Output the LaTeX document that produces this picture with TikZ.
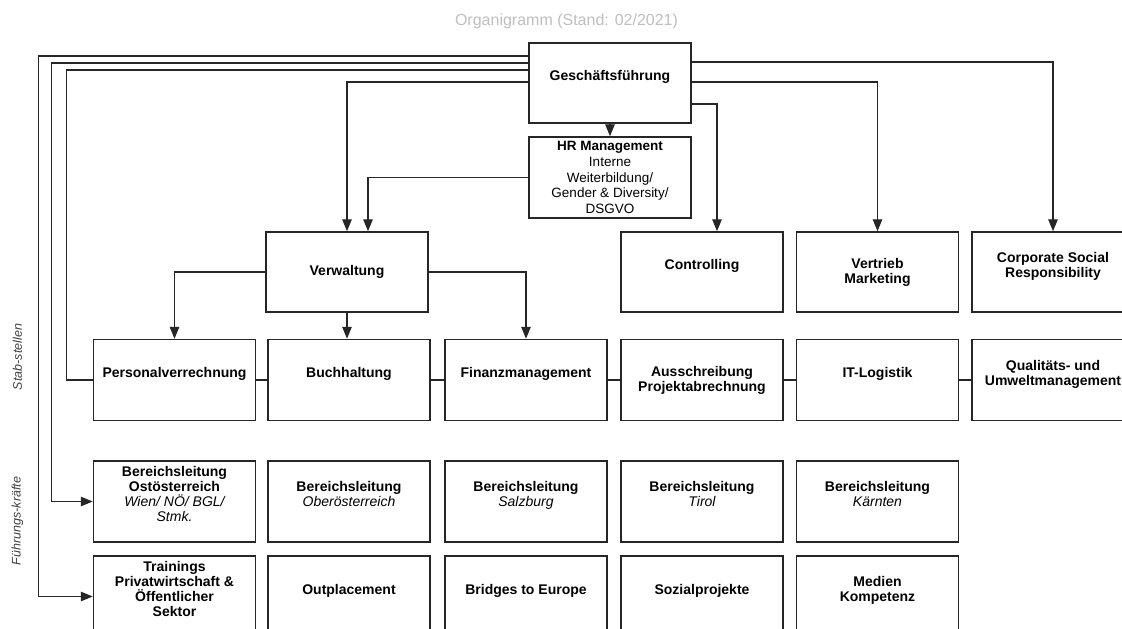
\documentclass[tikz,border=0pt]{standalone}
\usepackage{fontspec}
\setmainfont{Liberation Sans}
\usetikzlibrary{arrows.meta,calc}

\newcommand{\region}[1]{{\mdseries\itshape #1}}

\tikzset{
  box/.style={draw=black!85, line width=1.5pt, minimum width=162pt, minimum height=81pt,
    inner sep=0pt, align=center, font=\bfseries\fontsize{14}{15}\selectfont},
  link/.style={draw=black!85, line width=1.3pt},
  arr/.style={link, -{Triangle[length=12pt,width=9.5pt]}},
  side/.style={rotate=90, font=\itshape\fontsize{12.5}{15}\selectfont, text=black!75},
}

\begin{document}
\begin{tikzpicture}[x=1pt,y=-1pt]
    \clip (0,0) rectangle (1122,629);
    \fill[white] (0,0) rectangle (1122,629);

    % Draw title
    \node[font=\fontsize{16}{19}\selectfont, text=black!25] (title) at (566.5,21) {Organigramm (Stand: 02/2021)};

    % Draw top boxes
    \node[box, minimum height=80pt] (gf) at (610,83) {Geschäftsführung\\~};
    \node[box, font=\fontsize{13.5}{15.7}\selectfont] (hr) at (610,177.5)
        {\textbf{HR Management}\\Interne\\Weiterbildung/\\Gender \& Diversity/\\DSGVO};

    % Draw first row
    \node[box, minimum height=80pt] (verw) at (347,272) {Verwaltung};
    \node[box, minimum height=80pt] (ctrl) at (702,272) {Controlling\\~};
    \node[box, minimum height=80pt] (vm) at (877.5,272) {Vertrieb\\Marketing};
    \node[box, minimum height=80pt] (csr) at (1053,272) {Corporate Social\\Responsibility\\~};

    % Draw second row
    \node[box] (pv) at (174.5,380) {Personalverrechnung\\~};
    \node[box] (buch) at (349,380) {Buchhaltung\\~};
    \node[box] (fin) at (526,380) {Finanzmanagement\\~};
    \node[box] (aus) at (702,380) {Ausschreibung\\Projektabrechnung};
    \node[box] (itl) at (877.5,380) {IT-Logistik\\~};
    \node[box] (qm) at (1053,380) {Qualitäts- und\\Umweltmanagement\\~};

    % Draw Bereichsleitungen
    \node[box] (blost) at (174.5,501.5) {Bereichsleitung\\Ostösterreich\\\region{Wien/ NÖ/ BGL/}\\\region{Stmk.}\\~};
    \node[box] (blooe) at (349,501.5) {Bereichsleitung\\\region{Oberösterreich}\\~};
    \node[box] (blsbg) at (526,501.5) {Bereichsleitung\\\region{Salzburg}\\~};
    \node[box] (bltir) at (702,501.5) {Bereichsleitung\\\region{Tirol}\\~};
    \node[box] (blktn) at (877.5,501.5) {Bereichsleitung\\\region{Kärnten}\\~};

    % Draw Fuehrungskraefte
    \node[box] (trn) at (174.5,596.5) {Trainings\\Privatwirtschaft \&\\Öffentlicher\\Sektor\\~};
    \node[box] (outp) at (349,596.5) {Outplacement\\~};
    \node[box] (bte) at (526,596.5) {Bridges to Europe\\~};
    \node[box] (sozp) at (702,596.5) {Sozialprojekte\\~};
    \node[box] (medk) at (877.5,596.5) {Medien\\Kompetenz\\~};

    % Side labels
    \node[side] (stab) at (17.5,357) {Stab-stellen};
    \node[side] (fk) at (17.5,521) {Führungs-kräfte};

    % Connectors from Geschaeftsfuehrung
    \draw[arr] (gf) -- (hr);
    \draw[arr] ($(gf.west)+(0,-27)$) -- ++(-490,0) |- (trn.west);
    \draw[arr] ($(gf.west)+(0,-20)$) -- ++(-477,0) |- (blost.west);
    \draw[link] ($(gf.west)+(0,-13)$) -- ++(-462,0) |- (pv.west);
    \draw[arr] ($(gf.west)+(0,-1)$) -| (verw.north);
    \draw[arr] (hr.west) -| ($(verw.north)+(21,0)$);
    \draw[arr] ($(gf.east)+(0,-21)$) -| (csr.north);
    \draw[arr] ($(gf.east)+(0,-1)$) -| (vm.north);
    \draw[arr] ($(gf.east)+(0,21)$) -| ($(ctrl.north)+(15,0)$);

    % Connectors from Verwaltung
    \draw[arr] (verw.west) -| (pv.north);
    \draw[arr] (verw.south) -- (verw.south |- buch.north);
    \draw[arr] (verw.east) -| (fin.north);

    % Stabstellen in a row
    \foreach \a/\b in {pv/buch, buch/fin, fin/aus, aus/itl, itl/qm}
        \draw[link] (\a) -- (\b);
\end{tikzpicture}
\end{document}
